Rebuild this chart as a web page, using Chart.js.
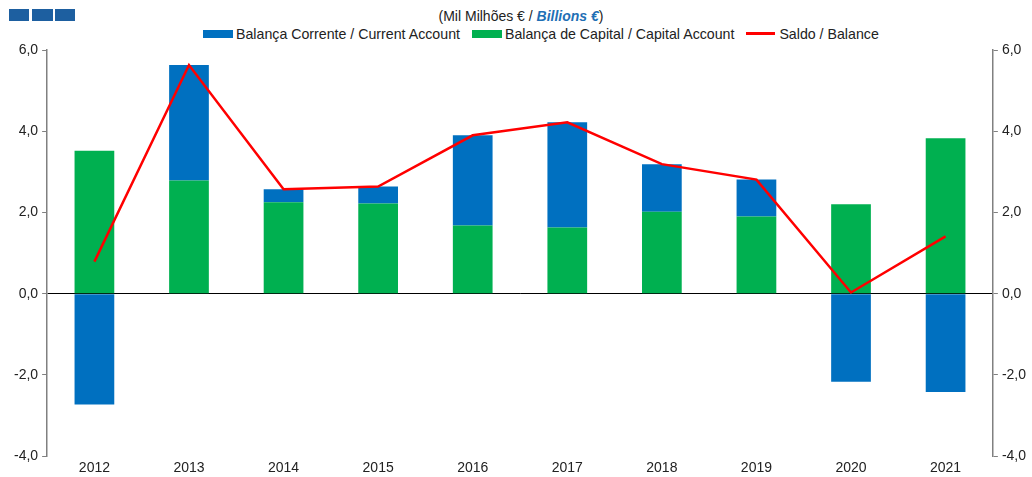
<!DOCTYPE html>
<html>
<head>
<meta charset="utf-8">
<script src="https://cdn.jsdelivr.net/npm/chart.js@4"></script>
<style>
  body { margin: 0; background: #fff; font-family: "Liberation Sans", Arial, sans-serif; }
  #wrap { position: relative; width: 1032px; height: 477px; overflow: hidden; }
  .logo { position: absolute; top: 9px; height: 12px; background: #1d5fa0; }
  #title { position: absolute; top: 8px; left: 0; width: 1042px; text-align: center; font-size: 14px; color: #222; }
  #title i { color: #1f6fb5; font-weight: bold; }
  #legend { position: absolute; top: 26px; left: 203px; font-size: 14.2px; color: #222; white-space: nowrap; }
  #legend span.sw { display: inline-block; width: 30px; height: 8px; vertical-align: 1px; margin-right: 3px; }
  #legend span.ln { display: inline-block; width: 29px; height: 3px; background: #ff0000; vertical-align: 4px; margin-right: 4px; }
  #legend span.item { margin-right: 8px; }
  canvas { position: absolute; left: 0; top: 0; }
</style>
</head>
<body>
<div id="wrap">
  <div class="logo" style="left:9px;width:20px"></div>
  <div class="logo" style="left:32px;width:21px"></div>
  <div class="logo" style="left:55px;width:20px"></div>
  <div id="title">(Mil Milhões € / <i>Billions €</i>)</div>
  <div id="legend">
    <span class="item"><span class="sw" style="background:#0070c0"></span>Balança Corrente / Current Account</span>
    <span class="item"><span class="sw" style="background:#00b050"></span>Balança de Capital / Capital Account</span>
    <span class="item"><span class="ln"></span>Saldo / Balance</span>
  </div>
  <canvas id="myChart" width="1032" height="477"></canvas>
</div>
<script>
// data (billions of euros)
var years = ["2012", "2013", "2014", "2015", "2016", "2017", "2018", "2019", "2020", "2021"];
var currentAccount = [-2.73, 2.84, 0.32, 0.42, 2.22, 2.59, 1.17, 0.91, -2.17, -2.42];
var capitalAccount = [3.52, 2.79, 2.25, 2.22, 1.68, 1.63, 2.02, 1.90, 2.20, 3.83];
var balance = [0.79, 5.63, 2.57, 2.64, 3.90, 4.22, 3.19, 2.81, 0.03, 1.41];

var fmt = function(v) { return v.toFixed(1).replace(".", ","); };

var yAxis = function(pos) {
  return {
    position: pos,
    min: -4,
    max: 6,
    stacked: pos == "left",
    ticks: { stepSize: 2, callback: fmt, color: "#222", font: { size: 14 }, padding: 4 },
    grid: {
      drawOnChartArea: pos == "left",
      color: function(ctx) { return ctx.tick && ctx.tick.value === 0 ? "#000" : "rgba(0,0,0,0)"; },
      tickColor: "#808080",
      tickLength: 5
    },
    border: { display: true, color: "#808080", width: 1.5 }
  };
};

var config = {
  type: "bar",
  data: {
    labels: years,
    datasets: [
      {
        label: "Balança de Capital / Capital Account",
        data: capitalAccount,
        backgroundColor: "#00b050",
        yAxisID: "y",
        categoryPercentage: 1,
        barPercentage: 0.42
      },
      {
        label: "Balança Corrente / Current Account",
        data: currentAccount,
        backgroundColor: "#0070c0",
        yAxisID: "y",
        categoryPercentage: 1,
        barPercentage: 0.42
      },
      {
        type: "line",
        label: "Saldo / Balance",
        data: balance,
        borderColor: "#ff0000",
        borderWidth: 2.5,
        pointRadius: 0,
        tension: 0,
        yAxisID: "y1",
        order: -1
      }
    ]
  },
  options: {
    responsive: false,
    animation: false,
    layout: { padding: { top: 50, left: 10, right: 2, bottom: -4 } },
    plugins: { legend: { display: false }, tooltip: { enabled: false } },
    scales: {
      x: {
        stacked: true,
        grid: { display: false, drawTicks: false },
        border: { display: false },
        ticks: { color: "#222", font: { size: 14 }, padding: 4 }
      },
      y: yAxis("left"),
      y1: yAxis("right")
    }
  }
};

Chart.defaults.font.family = "'Liberation Sans', Arial, sans-serif";
const myChart = new Chart(document.getElementById("myChart"), config);
</script>
</body>
</html>
